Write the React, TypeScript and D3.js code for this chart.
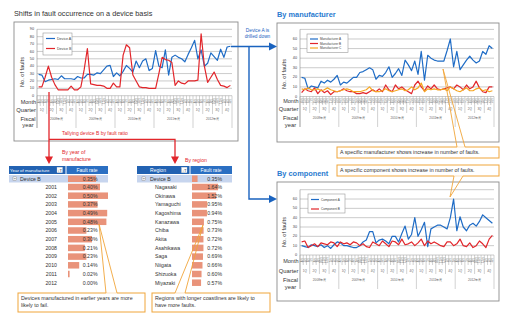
import React from 'react';
import * as d3 from 'd3';

// ---------- data ----------
const fiscalYears = ['2008年度', '2009年度', '2010年度', '2011年度', '2012年度'];
const monthLabels = ['4月', '5月', '6月', '7月', '8月', '9月', '10月', '11月', '12月', '1月', '2月', '3月'];
const quarterLabels = ['1Q', '2Q', '3Q', '4Q'];

const deviceA = [
  29, 28, 19, 21, 22, 23, 22, 27, 23, 23, 23, 22,
  26, 24, 24, 29, 29, 28, 31, 30, 35, 40, 41, 26,
  31, 27, 33, 41, 37, 32, 47, 38, 47, 50, 34, 37,
  61, 40, 38, 62, 28, 52, 55, 52, 50, 46, 56, 65,
  75, 50, 62, 40, 44, 58, 53, 48, 63, 52, 66, 67,
];
const deviceB = [
  12, 12, 25, 40, 25, 15, 8, 8, 8, 8, 13, 8,
  8, 12, 35, 64, 16, 15, 14, 14, 13, 10, 10, 17,
  12, 12, 55, 69, 65, 28, 20, 12, 11, 11, 10, 10,
  10, 30, 52, 49, 48, 45, 14, 20, 17, 16, 20, 20,
  20, 21, 84, 40, 18, 25, 32, 22, 14, 13, 11, 14,
];
const manufacturerA = [
  20, 19, 8, 11, 10, 9, 16, 14, 17, 15, 18, 22,
  12, 15, 14, 17, 20, 20, 25, 26, 28, 30, 28, 18,
  22, 21, 25, 31, 20, 24, 29, 22, 38, 33, 27, 37,
  23, 47, 17, 43, 40, 38, 37, 37, 37, 48, 60, 31,
  47, 28, 33, 38, 42, 38, 35, 37, 47, 44, 53, 50,
];
const manufacturerB = [
  4, 8, 6, 5, 9, 3, 7, 4, 6, 2, 5, 5,
  6, 8, 6, 5, 5, 3, 3, 4, 3, 5, 7, 5,
  8, 5, 12, 7, 5, 12, 8, 10, 7, 5, 3, 12,
  16, 10, 6, 11, 8, 12, 8, 7, 8, 9, 10, 8,
  12, 10, 7, 12, 8, 10, 16, 9, 5, 4, 10, 10,
];
const manufacturerC = [
  8, 7, 9, 7, 7, 8, 6, 7, 9, 7, 6, 5,
  6, 7, 8, 7, 5, 5, 5, 6, 7, 10, 6, 5,
  5, 6, 8, 6, 5, 6, 7, 8, 6, 7, 10, 7,
  9, 14, 5, 8, 7, 8, 7, 7, 8, 6, 10, 8,
  6, 5, 7, 9, 6, 6, 8, 9, 6, 7, 5, 6,
];
const componentA = [
  10, 9, 8, 11, 10, 9, 11, 8, 10, 7, 11, 14,
  13, 10, 10, 9, 8, 8, 10, 14, 16, 25, 25, 13,
  16, 17, 15, 12, 20, 20, 14, 23, 31, 17, 22, 40,
  20, 27, 35, 9, 28, 30, 32, 32, 30, 28, 40, 60,
  26, 41, 30, 26, 32, 34, 31, 36, 43, 40, 37, 34,
];
const componentB = [
  14, 15, 8, 10, 12, 9, 13, 12, 11, 14, 13, 9,
  14, 12, 13, 11, 14, 13, 10, 12, 9, 8, 14, 12,
  10, 15, 12, 9, 15, 14, 11, 17, 11, 12, 14, 10,
  13, 17, 10, 15, 12, 14, 12, 10, 9, 14, 14, 10,
  12, 17, 10, 9, 13, 8, 10, 15, 12, 8, 17, 21,
];

const mainTicks = [0, 10, 20, 30, 40, 50, 60, 70, 80, 90];
const subTicks = [0, 10, 20, 30, 40, 50, 60, 70];
const subTickLabelMax = 60;

const deviceBRate = 0.35;
const manufactureYears = ['2001', '2002', '2003', '2004', '2005', '2006', '2007', '2008', '2009', '2010', '2011', '2012'];
const yearRates = [0.40, 0.50, 0.37, 0.49, 0.48, 0.23, 0.30, 0.21, 0.23, 0.14, 0.02, 0.00];
const regions = ['Nagasaki', 'Okinawa', 'Yamaguchi', 'Kagoshima', 'Kanazawa', 'Chiba', 'Akita', 'Asahikawa', 'Saga', 'Niigata', 'Shizuoka', 'Miyazaki'];
const regionRates = [1.64, 1.52, 0.95, 0.94, 0.75, 0.73, 0.72, 0.72, 0.69, 0.66, 0.60, 0.57];

// ---------- styles ----------
const FONT = 'Arial, "Liberation Sans", Helvetica, sans-serif';
const BLUE = '#1f6cc6';
const RED = '#e2262b';
const ORANGE = '#f5a623';
const GRID = '#b4b4b4';
const FRAME = '#8c8c8c';
const BAR = '#e9937a';
const CALLOUT = '#f0a53a';
const ARROW_BLUE = '#1a63bf';

type Series = { name: string; values: number[]; color: string };
type ChartCfg = {
  frame: [number, number, number, number];
  x0: number; x1: number;
  yMax: number; yBase: number; yTop: number;
  ticks: number[]; labelMax: number;
  monthTop: number; monthBottom: number; quarterBottom: number; yearBottom: number;
  monthY: number; quarterY: number; fiscalY: number; yearWordY: number;
  rowLabelX: number;
  ylabel: [number, number];
  legend: { box: [number, number, number, number]; ys: number[]; lineX: [number, number]; textX: number; fs: number };
  series: Series[];
};

function TimeChart({ cfg }: { cfg: ChartCfg }) {
  const idx = d3.range(60);
  const x = d3.scaleBand<number>().domain(idx).range([cfg.x0, cfg.x1]);
  const bw = x.bandwidth();
  const y = d3.scaleLinear().domain([0, cfg.yMax]).range([cfg.yBase, cfg.yTop]);
  const line = d3.line<number>().x((_, i) => (x(i) as number) + bw / 2).y((d) => y(d));
  const [fx, fy, fw, fh] = cfg.frame;
  const midRow = (cfg.monthTop + cfg.monthBottom) / 2;
  return (
    <g fontFamily={FONT}>
      <rect x={fx} y={fy} width={fw} height={fh} fill="#fff" stroke={FRAME} strokeWidth={0.9} />
      {cfg.ticks.map((t) => (
        <line key={'g' + t} x1={cfg.x0} x2={cfg.x1} y1={y(t)} y2={y(t)} stroke={GRID} strokeWidth={0.7} />
      ))}
      {cfg.ticks.filter((t) => t <= cfg.labelMax).map((t) => (
        <text key={'t' + t} x={cfg.x0 - 3} y={y(t) + 1.1} fontSize={3.8} textAnchor="end" fill="#444">{t}</text>
      ))}
      <line x1={cfg.x0} x2={cfg.x0} y1={y(cfg.ticks[cfg.ticks.length - 1])} y2={cfg.yearBottom} stroke={FRAME} strokeWidth={0.6} />
      {d3.range(61).map((i) => {
        const xx = cfg.x0 + i * bw;
        const yb = i % 12 === 0 ? cfg.yearBottom : i % 3 === 0 ? cfg.quarterBottom : cfg.monthBottom;
        return <line key={'s' + i} x1={xx} x2={xx} y1={cfg.monthTop} y2={yb} stroke="#9a9a9a" strokeWidth={0.45} />;
      })}
      {idx.map((i) => (
        <text key={'m' + i} transform={`translate(${(x(i) as number) + bw / 2 + 1},${midRow}) rotate(-90)`} fontSize={2.9} textAnchor="middle" fill="#666">
          {monthLabels[i % 12]}
        </text>
      ))}
      {d3.range(20).map((q) => (
        <text key={'q' + q} x={cfg.x0 + (q * 3 + 1.5) * bw} y={cfg.quarterY + 1} fontSize={3} textAnchor="middle" fill="#666">
          {quarterLabels[q % 4]}
        </text>
      ))}
      {fiscalYears.map((fyl, k) => (
        <text key={'y' + k} x={cfg.x0 + (k * 12 + 6) * bw} y={cfg.fiscalY + 1} fontSize={3.2} textAnchor="middle" fill="#666">
          {fyl}
        </text>
      ))}
      <text x={cfg.rowLabelX} y={cfg.monthY + 3} fontSize={5.5} textAnchor="end" fill="#333">Month</text>
      <text x={cfg.rowLabelX} y={cfg.quarterY + 2} fontSize={5.8} textAnchor="end" fill="#333">Quarter</text>
      <text x={cfg.rowLabelX - 8} y={cfg.fiscalY + 2} fontSize={5.8} textAnchor="middle" fill="#333">Fiscal</text>
      <text x={cfg.rowLabelX - 8} y={cfg.yearWordY + 2} fontSize={5.8} textAnchor="middle" fill="#333">year</text>
      <text transform={`translate(${cfg.ylabel[0]},${cfg.ylabel[1]}) rotate(-90)`} fontSize={5.6} textAnchor="middle" fill="#333">No. of faults</text>
      {cfg.series.map((s) => (
        <path key={s.name} d={line(s.values) || ''} fill="none" stroke={s.color} strokeWidth={1.2} strokeLinejoin="round" />
      ))}
      <rect x={cfg.legend.box[0]} y={cfg.legend.box[1]} width={cfg.legend.box[2]} height={cfg.legend.box[3]} fill="#fff" stroke="#999" strokeWidth={0.6} />
      {cfg.series.map((s, i) => (
        <g key={'l' + s.name}>
          <line x1={cfg.legend.lineX[0]} x2={cfg.legend.lineX[1]} y1={cfg.legend.ys[i]} y2={cfg.legend.ys[i]} stroke={s.color} strokeWidth={1.2} />
          <text x={cfg.legend.textX} y={cfg.legend.ys[i] + 1.1} fontSize={cfg.legend.fs} fill="#444">{s.name}</text>
        </g>
      ))}
    </g>
  );
}

function Callout({ box, base, apex, lines, fs }: { box: [number, number, number, number]; base: [number, number, number]; apex: [number, number]; lines: string[]; fs: number }) {
  const [bx, by, bw, bh] = box;
  return (
    <g fontFamily={FONT}>
      <rect x={bx} y={by} width={bw} height={bh} fill="#fff" stroke={CALLOUT} strokeWidth={1} />
      <line x1={base[0]} x2={base[1]} y1={base[2]} y2={base[2]} stroke="#fff" strokeWidth={1.4} />
      <line x1={base[0]} y1={base[2]} x2={apex[0]} y2={apex[1]} stroke={CALLOUT} strokeWidth={0.9} />
      <line x1={base[1]} y1={base[2]} x2={apex[0]} y2={apex[1]} stroke={CALLOUT} strokeWidth={0.9} />
      {lines.map((t, i) => (
        <text key={i} x={bx + 3} y={by + 6.5 + i * 7.2} fontSize={fs} fill="#333">{t}</text>
      ))}
    </g>
  );
}

function MinusBox({ x, y }: { x: number; y: number }) {
  return (
    <g>
      <rect x={x} y={y} width={3.6} height={3.6} fill="#fff" stroke="#777" strokeWidth={0.4} />
      <line x1={x + 0.8} x2={x + 2.8} y1={y + 1.8} y2={y + 1.8} stroke="#333" strokeWidth={0.5} />
    </g>
  );
}

function FilterIcon({ x, y }: { x: number; y: number }) {
  return (
    <g>
      <rect x={x} y={y} width={5.5} height={5.5} fill="#fff" stroke="#ccc" strokeWidth={0.3} />
      <text x={x + 2.75} y={y + 4.3} fontSize={4.2} textAnchor="middle" fill="#333" fontFamily={FONT}>↓T</text>
    </g>
  );
}

function RateTable({ x0, split, x1, header1, header1X, header1Anchor, iconX, labels, labelX, labelAnchor, rates, barX, pxPerPct, valueX, minusX, devTextX }:
  { x0: number; split: number; x1: number; header1: string; header1X: number; header1Anchor: string; iconX: number; labels: string[]; labelX: number; labelAnchor: string; rates: number[]; barX: number; pxPerPct: number; valueX: number; minusX: number; devTextX: number }) {
  const rowY = (k: number) => 187 + k * 8.7;
  const barW = d3.scaleLinear().domain([0, 1]).range([0, pxPerPct]);
  return (
    <g fontFamily={FONT}>
      <rect x={x0} y={166} width={split - x0 - 0.5} height={8} fill="#2262b2" />
      <rect x={split + 0.5} y={166} width={x1 - split - 0.5} height={8} fill="#2b6fc2" />
      <text x={header1X} y={171.7} fontSize={header1Anchor === 'start' ? 4.4 : 5} textAnchor={header1Anchor as any} fill="#fff">{header1}</text>
      <FilterIcon x={iconX} y={167.2} />
      <text x={(split + x1) / 2} y={171.8} fontSize={5} textAnchor="middle" fill="#fff">Fault rate</text>
      <rect x={x0} y={175} width={x1 - x0} height={7.5} fill="#c7d5ee" />
      <MinusBox x={minusX} y={176.9} />
      <text x={devTextX} y={180.6} fontSize={5.2} fill="#333">Device B</text>
      <rect x={barX} y={175.5} width={barW(deviceBRate)} height={6.5} fill={BAR} />
      <text x={valueX} y={180.6} fontSize={5.2} textAnchor="end" fill="#333">{deviceBRate.toFixed(2)}%</text>
      {labels.map((l, k) => (
        <g key={l}>
          <text x={labelX} y={rowY(k) + 1.8} fontSize={5.2} textAnchor={labelAnchor as any} fill="#333">{l}</text>
          <rect x={barX} y={rowY(k) - 3.25} width={barW(rates[k])} height={6.5} fill={BAR} />
          <text x={valueX} y={rowY(k) + 1.8} fontSize={5.2} textAnchor="end" fill="#333">{rates[k].toFixed(2)}%</text>
        </g>
      ))}
    </g>
  );
}

export default function App() {
  const mainCfg: ChartCfg = {
    frame: [14, 22, 224, 119],
    x0: 37, x1: 232,
    yMax: 90, yBase: 95.7, yTop: 29.3,
    ticks: mainTicks, labelMax: 90,
    monthTop: 95.7, monthBottom: 106, quarterBottom: 114, yearBottom: 128,
    monthY: 100.5, quarterY: 110, fiscalY: 119, yearWordY: 125,
    rowLabelX: 36,
    ylabel: [24, 72],
    legend: { box: [43, 33, 29, 22], ys: [38.5, 48.5], lineX: [46, 55], textX: 57, fs: 3.6 },
    series: [
      { name: 'Device A', values: deviceA, color: BLUE },
      { name: 'Device B', values: deviceB, color: RED },
    ],
  };
  const manCfg: ChartCfg = {
    frame: [277, 23, 222, 119],
    x0: 300, x1: 494,
    yMax: 70, yBase: 96.5, yTop: 29.4,
    ticks: subTicks, labelMax: subTickLabelMax,
    monthTop: 96.5, monthBottom: 105, quarterBottom: 113, yearBottom: 127,
    monthY: 100.3, quarterY: 109.3, fiscalY: 118.3, yearWordY: 125,
    rowLabelX: 298.5,
    ylabel: [286, 74],
    legend: { box: [307, 34, 41, 18.5], ys: [39, 43.5, 48], lineX: [310, 318], textX: 320, fs: 3.1 },
    series: [
      { name: 'Manufacturer A', values: manufacturerA, color: BLUE },
      { name: 'Manufacturer B', values: manufacturerB, color: RED },
      { name: 'Manufacturer C', values: manufacturerC, color: ORANGE },
    ],
  };
  const compCfg: ChartCfg = {
    frame: [277, 182, 222, 119],
    x0: 300, x1: 494,
    yMax: 70, yBase: 255, yTop: 189.7,
    ticks: subTicks, labelMax: subTickLabelMax,
    monthTop: 255, monthBottom: 265, quarterBottom: 274, yearBottom: 289,
    monthY: 260, quarterY: 270.5, fiscalY: 279.5, yearWordY: 286.5,
    rowLabelX: 298.5,
    ylabel: [286, 232],
    legend: { box: [308, 194, 37, 19], ys: [199.5, 209], lineX: [311, 319], textX: 321, fs: 3.1 },
    series: [
      { name: 'Component A', values: componentA, color: BLUE },
      { name: 'Component B', values: componentB, color: RED },
    ],
  };

  return (
    <svg width={510} height={321} style={{ position: 'absolute', left: 0, top: 0, background: '#fff' }}>
      <rect x={0} y={0} width={510} height={321} fill="#fff" />
      <text x={14} y={16} fontFamily={FONT} fontSize={7.3} fill="#333">Shifts in fault occurrence on a device basis</text>
      <TimeChart cfg={mainCfg} />

      {/* red drill-down arrows */}
      <text x={62} y={134.5} fontFamily={FONT} fontSize={5} fill={RED}>Tallying device B by fault ratio</text>
      <path d="M49,92 V157 M49,139.3 H175 V157" fill="none" stroke={RED} strokeWidth={1.3} />
      <path d="M45,156.5 L53,156.5 L49,164 Z" fill={RED} />
      <path d="M171,156.5 L179,156.5 L175,164 Z" fill={RED} />
      <text x={62} y={153.5} fontFamily={FONT} fontSize={5.2} fill={RED}>By year of</text>
      <text x={62} y={160.5} fontFamily={FONT} fontSize={5.2} fill={RED}>manufacture</text>
      <text x={185} y={161.5} fontFamily={FONT} fontSize={5.2} fill={RED}>By region</text>

      <RateTable x0={9} split={66} x1={108} header1="Year of manufacture" header1X={10} header1Anchor="start" iconX={57}
        labels={manufactureYears} labelX={57} labelAnchor="end" rates={yearRates} barX={68} pxPerPct={80} valueX={97.5}
        minusX={13} devTextX={20} />
      <RateTable x0={137} split={190} x1={232} header1="Region" header1X={158} header1Anchor="middle" iconX={181.5}
        labels={regions} labelX={155} labelAnchor="start" rates={regionRates} barX={192} pxPerPct={15.9} valueX={222}
        minusX={142} devTextX={150} />

      <Callout box={[18, 293, 127, 19]} base={[106, 117, 293]} apex={[99, 224]} fs={5.3}
        lines={['Devices manufactured in earlier years are more', 'likely to fail.']} />
      <Callout box={[152, 293, 118, 19]} base={[175, 185, 293]} apex={[203, 225]} fs={5.3}
        lines={['Regions with longer coastlines are likely to', 'have more faults.']} />

      {/* right side */}
      <text x={277} y={17} fontFamily={FONT} fontSize={7.4} fontWeight="bold" fill="#2a7bd0">By manufacturer</text>
      <TimeChart cfg={manCfg} />
      <text x={277} y={176} fontFamily={FONT} fontSize={7.4} fontWeight="bold" fill="#2a7bd0">By component</text>
      <TimeChart cfg={compCfg} />

      {/* blue drill-down arrows */}
      <text x={257.5} y={31.5} fontFamily={FONT} fontSize={4.8} textAnchor="middle" fill={ARROW_BLUE}>Device A is</text>
      <text x={257.5} y={38} fontFamily={FONT} fontSize={4.8} textAnchor="middle" fill={ARROW_BLUE}>drilled down</text>
      <path d="M231,46.5 H270 M249,46.5 V199 H270" fill="none" stroke={ARROW_BLUE} strokeWidth={1.4} />
      <path d="M269,42.5 L277,46.5 L269,50.5 Z" fill={ARROW_BLUE} />
      <path d="M269,195 L277,199 L269,203 Z" fill={ARROW_BLUE} />

      <Callout box={[337, 147, 162, 11]} base={[457, 465, 147]} apex={[443, 69]} fs={5.3}
        lines={['A specific manufacturer shows increase in number of faults.']} />
      <Callout box={[337, 165, 162, 11]} base={[454, 463, 176]} apex={[450, 197]} fs={5.3}
        lines={['A specific component shows increase in number of faults.']} />
    </svg>
  );
}
